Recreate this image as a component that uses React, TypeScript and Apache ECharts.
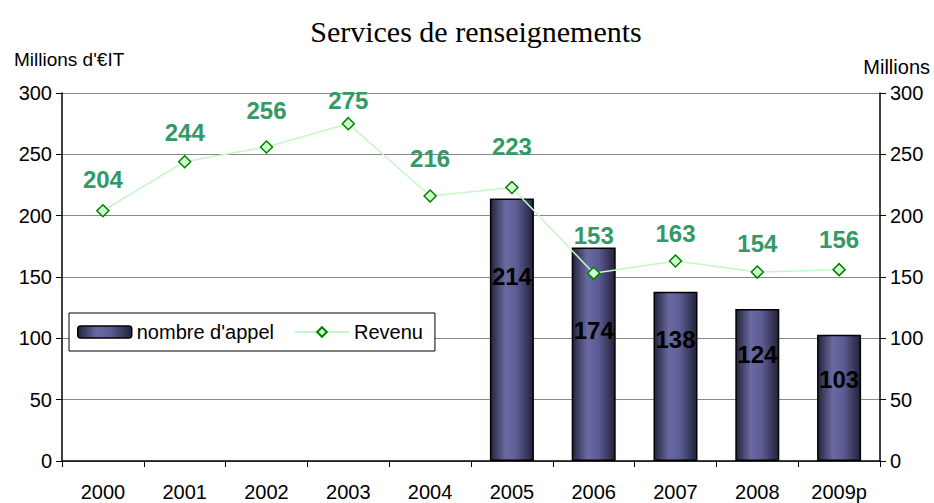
import React, { useEffect, useRef } from "react";
import * as echarts from "echarts";

const years = ["2000", "2001", "2002", "2003", "2004", "2005", "2006", "2007", "2008", "2009p"];
const calls: (number | null)[] = [null, null, null, null, null, 214, 174, 138, 124, 103];
const revenue = [204, 244, 256, 275, 216, 223, 153, 163, 154, 156];
const yTicks = { min: 0, max: 300, interval: 50 };

// label distances (layout, not data)
const barLabelDistance = [0, 0, 0, 0, 0, 66, 71, 36, 34, 33];
const lineLabelDistance = [13, 10, 18, 4, 19, 22, 19, 9, 10, 11];

export default function App() {
  const ref = useRef<HTMLDivElement>(null);
  useEffect(() => {
    if (!ref.current) return;
    const chart = echarts.init(ref.current, undefined, { renderer: "svg" });
    const font = "'Liberation Sans', Arial, sans-serif";
    const barGrad = new echarts.graphic.LinearGradient(0, 0, 1, 0, [
      { offset: 0, color: "#24243c" },
      { offset: 0.35, color: "#6a6aa2" },
      { offset: 0.6, color: "#5d5d95" },
      { offset: 1, color: "#22223a" },
    ]);
    const axisCommon = {
      type: "value",
      min: yTicks.min,
      max: yTicks.max,
      interval: yTicks.interval,
      axisLine: { show: true, lineStyle: { color: "#000", width: 1.5 } },
      axisTick: { show: true, length: 6, lineStyle: { color: "#000" } },
      axisLabel: { fontFamily: font, fontSize: 20, color: "#000", margin: 10 },
    };
    chart.setOption({
      animation: false,
      backgroundColor: "#fff",
      title: {
        text: "Services de renseignements",
        left: 471,
        textAlign: "center",
        top: 11,
        textStyle: { fontFamily: "'Liberation Serif', 'Times New Roman', serif", fontSize: 30, fontWeight: "normal", color: "#000" },
      },
      graphic: [
        { type: "text", left: 14, top: 50, style: { text: "Millions d'€IT", font: `19px ${font}`, fill: "#000" } },
        { type: "text", right: 4, top: 57, style: { text: "Millions", font: `20px ${font}`, fill: "#000" } },
      ],
      legend: {
        left: 69,
        top: 313,
        backgroundColor: "#fff",
        borderColor: "#000",
        borderWidth: 1,
        padding: [9, 12, 9, 8],
        itemGap: 20,
        itemWidth: 54,
        itemHeight: 12,
        textStyle: { fontFamily: font, fontSize: 20, color: "#000" },
        data: [
          { name: "nombre d'appel", itemStyle: { color: barGrad, borderColor: "#000", borderWidth: 1.5 } },
          { name: "Revenu" },
        ],
      },
      grid: { left: 62, right: 54, top: 93, bottom: 42 },
      xAxis: {
        type: "category",
        data: years,
        axisLine: { lineStyle: { color: "#000", width: 1.5 } },
        axisTick: { show: true, length: 6, alignWithLabel: false, lineStyle: { color: "#000" } },
        axisLabel: { fontFamily: font, fontSize: 20, color: "#000", margin: 21 },
      },
      yAxis: [
        { ...axisCommon, position: "left", splitLine: { show: true, lineStyle: { color: "#888", width: 1 } } },
        { ...axisCommon, position: "right", splitLine: { show: false } },
      ],
      series: [
        {
          name: "nombre d'appel",
          type: "bar",
          yAxisIndex: 1,
          barWidth: 44,
          data: calls.map((v, i) => ({
            value: v,
            label: { distance: barLabelDistance[i] },
          })),
          itemStyle: { color: barGrad, borderColor: "#000", borderWidth: 1.5 },
          label: {
            show: true,
            position: "insideTop",
            fontFamily: font,
            fontSize: 24,
            fontWeight: "bold",
            color: "#000",
          },
          z: 2,
        },
        {
          name: "Revenu",
          type: "line",
          yAxisIndex: 0,
          data: revenue.map((v, i) => ({
            value: v,
            label: { distance: lineLabelDistance[i] },
          })),
          symbol: "diamond",
          symbolSize: 12,
          lineStyle: { color: "#c6f7c6", width: 1.5 },
          itemStyle: { color: "#ccffcc", borderColor: "#008000", borderWidth: 1.5 },
          label: {
            show: true,
            position: "top",
            fontFamily: font,
            fontSize: 24,
            fontWeight: "bold",
            color: "#339966",
          },
          z: 3,
        },
      ],
    });
    return () => chart.dispose();
  }, []);
  return <div ref={ref} style={{ position: "absolute", left: 0, top: 0, width: 934, height: 503 }} />;
}
